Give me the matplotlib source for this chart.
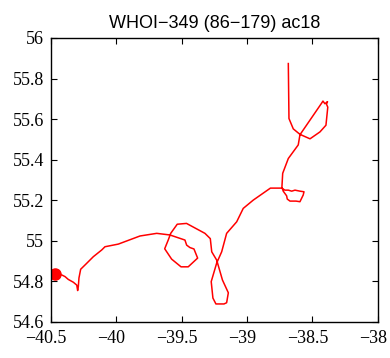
import matplotlib
matplotlib.use("Agg")
import matplotlib.pyplot as plt
import matplotlib.transforms as mtransforms

# Float track (longitude / latitude), in time order
lon = [-40.469, -40.418, -40.393, -40.368, -40.329, -40.303, -40.296, -40.291,
       -40.286, -40.273, -40.232, -40.176, -40.112, -40.087, -39.985, -39.819,
       -39.691, -39.590, -39.475, -39.462, -39.437, -39.406, -39.378, -39.450,
       -39.505, -39.577, -39.630, -39.603, -39.584, -39.534, -39.463, -39.322,
       -39.281, -39.270, -39.232, -39.188, -39.143, -39.156, -39.176, -39.238,
       -39.261, -39.274, -39.232, -39.194, -39.156, -39.079, -39.029, -38.952,
       -38.821, -38.735, -38.710, -38.684, -38.658, -38.633, -38.595, -38.564,
       -38.570, -38.595, -38.625, -38.671, -38.692, -38.697, -38.723, -38.733,
       -38.727, -38.684, -38.608, -38.595, -38.429, -38.419, -38.404, -38.384,
       -38.392, -38.382, -38.396, -38.442, -38.518, -38.595, -38.646, -38.679,
       -38.684]
lat = [54.835, 54.832, 54.824, 54.810, 54.796, 54.782, 54.755, 54.774,
       54.817, 54.860, 54.886, 54.922, 54.955, 54.971, 54.984, 55.024,
       55.037, 55.029, 55.004, 54.979, 54.967, 54.960, 54.915, 54.872,
       54.872, 54.910, 54.961, 55.004, 55.037, 55.082, 55.086, 55.037,
       55.011, 54.946, 54.905, 54.807, 54.744, 54.695, 54.689, 54.689,
       54.718, 54.799, 54.891, 54.946, 55.037, 55.094, 55.160, 55.201,
       55.260, 55.260, 55.250, 55.250, 55.245, 55.250, 55.245, 55.242,
       55.226, 55.193, 55.196, 55.196, 55.206, 55.222, 55.245, 55.265,
       55.333, 55.406, 55.473, 55.523, 55.679, 55.689, 55.676, 55.686,
       55.674, 55.659, 55.570, 55.537, 55.503, 55.525, 55.552, 55.603,
       55.874]

xticks = [-40.5, -40, -39.5, -39, -38.5, -38]
xticklabels = ["\u221240.5", "\u221240", "\u221239.5", "\u221239", "\u221238.5", "\u221238"]
yticks = [54.6, 54.8, 55, 55.2, 55.4, 55.6, 55.8, 56]
yticklabels = ["54.6", "54.8", "55", "55.2", "55.4", "55.6", "55.8", "56"]
title = "WHOI\u2212349 (86\u2212179) ac18"

fig = plt.figure(figsize=(3.9, 3.58), dpi=100)
ax = fig.add_axes([51 / 390, 1 - 322 / 358, (377.7 - 51) / 390, (322 - 38) / 358])

ax.plot(lon, lat, color="red", lw=1.1)
ax.plot(lon[0], lat[0], "o", color="red", ms=8, mec="red")

ax.set_xlim(-40.5, -38)
ax.set_ylim(54.6, 56)
ax.set_xticks(xticks)
ax.set_xticklabels(xticklabels)
ax.set_yticks(yticks)
ax.set_yticklabels(yticklabels)

ax.tick_params(direction="in", length=4, width=0.8, top=True, right=True,
               labelsize=13)
ax.tick_params(axis="x", pad=6)
ax.tick_params(axis="y", pad=5)

# x labels sit slightly left of their ticks so the last one stays in the figure
shift = mtransforms.ScaledTranslation(-5 / 100, 0, fig.dpi_scale_trans)
for lbl in ax.get_xticklabels():
    lbl.set_fontfamily("Liberation Serif")
    lbl.set_transform(lbl.get_transform() + shift)
for lbl in ax.get_yticklabels():
    lbl.set_fontfamily("Liberation Serif")
for sp in ax.spines.values():
    sp.set_linewidth(1.0)

ax.set_title(title, fontsize=13, fontfamily="Liberation Sans", pad=7)

fig.savefig("out.png", dpi=100)
